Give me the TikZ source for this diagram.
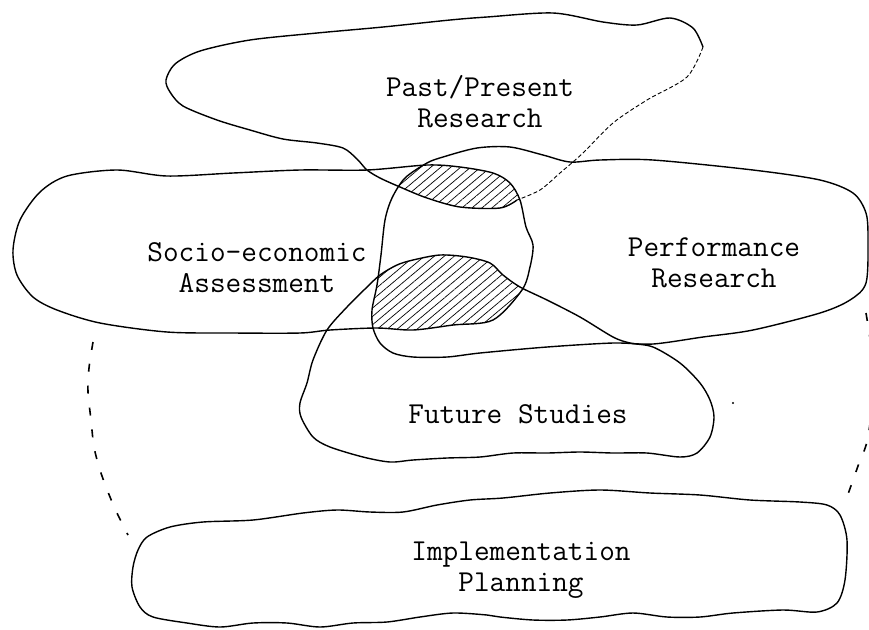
\documentclass[tikz,border=0pt]{standalone}
\usetikzlibrary{patterns.meta}

% outlines of the five areas (picture units are pixels)
\newcommand\pastline{plot[smooth] coordinates {(517,200) (500,208) (460,207) (427,198) (400,187) (380,178) (367,170) (357,159) (343,148) (317,143) (283,139) (250,130) (217,120) (183,106) (170,92) (166,80) (175,64) (200,51) (250,40) (317,33) (383,27) (450,20) (487,17) (553,13) (603,22) (637,25) (670,18) (693,28) (703,47)}}
\newcommand\pastgap{plot[smooth] coordinates {(703,47) (687,77) (647,100) (613,123) (583,153) (560,173) (540,190) (517,200)}}
\newcommand\sociopath{plot[smooth cycle] coordinates {(13,250) (20,220) (40,192) (67,176) (117,170) (167,176) (233,173) (300,170) (367,170) (427,165) (460,167) (493,173) (510,183) (520,200) (526,227) (533,245) (530,267) (522,290) (493,320) (453,325) (413,330) (377,328) (330,330) (300,333) (233,333) (167,332) (100,323) (57,310) (33,297) (17,275)}}
\newcommand\perfpath{plot[smooth cycle] coordinates {(427,163) (443,157) (477,148) (510,147) (543,155) (570,162) (600,160) (653,160) (753,170) (820,180) (853,193) (866,213) (868,240) (866,283) (850,300) (820,313) (753,330) (703,337) (653,344) (613,343) (547,347) (480,353) (447,357) (413,357) (393,353) (380,343) (373,328) (372,310) (377,285) (381,255) (385,220) (392,198) (405,178)}}
\newcommand\futurepath{plot[smooth cycle] coordinates {(380,275) (397,265) (413,260) (440,255) (467,257) (490,263) (503,275) (520,287) (547,300) (580,317) (613,337) (630,343) (653,347) (680,363) (700,383) (710,400) (714,417) (710,437) (697,453) (680,457) (647,453) (613,453) (580,452) (547,453) (513,453) (480,457) (447,458) (413,460) (390,462) (363,457) (330,447) (313,437) (301,417) (300,403) (307,383) (313,360) (327,330) (347,307) (365,289)}}
\newcommand\implpath{plot[smooth cycle] coordinates {(147,537) (170,527) (203,522) (253,520) (303,513) (337,510) (370,512) (403,512) (437,505) (470,500) (503,498) (550,493) (600,490) (650,493) (700,495) (750,500) (800,502) (827,505) (840,515) (847,540) (845,580) (837,603) (817,612) (783,610) (733,613) (700,617) (667,617) (633,613) (600,617) (567,620) (533,620) (500,617) (487,615) (453,613) (420,617) (387,622) (353,623) (320,627) (287,623) (253,623) (220,627) (187,623) (153,617) (140,607) (132,587) (133,567) (138,550)}}

\begin{document}
\begin{tikzpicture}[x=0.5pt, y=-0.5pt,
    blob/.style={draw, line width=0.7pt, line join=round},
    thinblob/.style={draw, line width=0.45pt, dash pattern=on 2pt off 1.2pt},
    guide/.style={draw, line width=0.8pt, dash pattern=on 4pt off 7pt},
    hatch/.style={pattern={Lines[angle=40, distance=3.2pt, line width=0.35pt]}},
    areatext/.style={font=\fontsize{15.2}{15.5}\fontseries{l}\selectfont\ttfamily, align=center, inner sep=0pt}]

    \useasboundingbox (0,0) rectangle (869,629);

    % Shared parts
    \begin{scope}
        \clip \pastline -- cycle;
        \clip \sociopath;
        \clip \perfpath;
        \fill[hatch] (350,130) rectangle (545,225);
    \end{scope}
    \begin{scope}
        \clip \sociopath;
        \clip \perfpath;
        \clip \futurepath;
        \fill[hatch] (350,235) rectangle (545,345);
    \end{scope}

    % Areas
    \draw[blob] \pastline;
    \draw[thinblob] \pastgap;
    \draw[blob] \sociopath;
    \draw[blob] \perfpath;
    \draw[blob] \futurepath;
    \draw[blob] \implpath;

    % Links down to planning
    \begin{scope}
        \clip (0,0) rectangle (869,629);
        \draw[guide] plot[smooth] coordinates {(93,342) (89,368) (88,392) (91,420) (94,447) (100,470) (108,492) (117,513) (128,535)};
        \draw[guide] plot[smooth] coordinates {(866,313) (874,375) (868,437) (858,466) (847,497)};
    \end{scope}
    \fill (733,403) circle (1.2);

    % Labels
    \node[areatext] (past) at (480,102) {Past/Present\\Research};
    \node[areatext] (socio) at (257,268) {Socio-economic\\Assessment};
    \node[areatext] (perf) at (714,263) {Performance\\Research};
    \node[areatext] (future) at (518,414) {Future Studies};
    \node[areatext] (impl) at (521,570) {Implementation\\Planning};
\end{tikzpicture}
\end{document}
